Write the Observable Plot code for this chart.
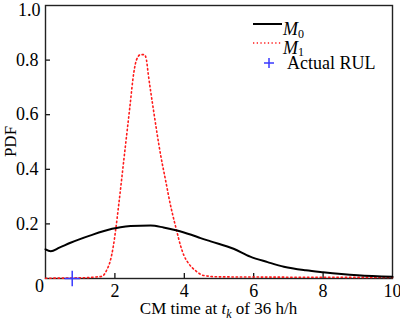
<!DOCTYPE html>
<html>
<head>
<meta charset="utf-8">
<script src="https://cdn.jsdelivr.net/npm/d3@7"></script>
<script src="https://cdn.jsdelivr.net/npm/@observablehq/plot@0.6"></script>
<style>
  html, body { margin: 0; padding: 0; background: #fff; }
  #chart { position: relative; width: 400px; height: 321px; }
  #chart svg, #chart svg text { font-family: "Liberation Serif", "DejaVu Serif", serif !important; }
</style>
</head>
<body>
<div id="chart"></div>
<script>
// M0 curve (solid black)
const m0X = [0, 0.15, 0.4, 0.72, 1.3, 1.92, 2.16, 2.45, 3.03, 3.4, 3.79, 4.2, 4.47, 4.76, 5.42, 5.9, 6.4, 6.87, 7.5, 8.0, 9.0, 10];
const m0Y = [0.107, 0.1, 0.113, 0.131, 0.158, 0.182, 0.188, 0.192, 0.194, 0.187, 0.176, 0.16, 0.148, 0.136, 0.109, 0.08, 0.06, 0.043, 0.03, 0.023, 0.012, 0.006];
// M1 curve (red dotted)
const m1X = [0, 1.2, 1.39, 1.63, 1.76, 1.87, 1.95, 2.02, 2.11, 2.28, 2.43, 2.54, 2.62, 2.74, 2.85, 2.91, 2.96, 3.1, 3.33, 3.46, 3.6, 3.72, 3.79, 3.89, 3.99, 4.13, 4.32, 4.56, 5, 10];
const m1Y = [0.001, 0.003, 0.005, 0.008, 0.03, 0.066, 0.115, 0.176, 0.27, 0.46, 0.627, 0.75, 0.8, 0.82, 0.82, 0.8, 0.75, 0.627, 0.444, 0.36, 0.27, 0.205, 0.17, 0.121, 0.084, 0.054, 0.029, 0.011, 0.006, 0.004];
// Actual RUL marker
const rulX = [0.77];
const rulY = [0];
// Ticks
const xTicks = [2, 4, 6, 8, 10];
const yTicks = [0.2, 0.4, 0.6, 0.8];
const yTopTick = [1.0];
const xInnerTicks = [2, 4, 6, 8];
const yInnerTicks = [0.2, 0.4, 0.6, 0.8];
const legendLabels = ["M", "M", "Actual RUL"];

const m0 = m0X.map((x, i) => ({x, y: m0Y[i]}));
const m1 = m1X.map((x, i) => ({x, y: m1Y[i]}));
const rul = rulX.map((x, i) => ({x, y: rulY[i]}));

const W = 400, H = 321;
const mL = 45, mR = 8, mT = 5, mB = 43;
const font = "Liberation Serif, DejaVu Serif, serif";
const fs = 18;

const plot = Plot.plot({
  width: W, height: H,
  marginLeft: mL, marginRight: mR, marginTop: mT, marginBottom: mB,
  style: {fontFamily: font, fontSize: fs + "px", color: "#000", background: "#fff"},
  x: {domain: [0, 10]},
  y: {domain: [0, 1]},
  marks: [
    Plot.axisX(xTicks, {tickSize: 0, tickPadding: 6, fontSize: fs, label: null}),
    Plot.axisY(yTicks, {tickSize: 0, tickPadding: 7, fontSize: fs, label: null, tickFormat: d => d.toFixed(1)}),
    Plot.text(yTopTick, {x: 0, y: d => d, text: d => d.toFixed(1), dx: -5, dy: 5, fontSize: fs, textAnchor: "end"}),
    Plot.text([0], {x: d => d, y: 0, text: d => "0", dx: -6, dy: 8, fontSize: fs, textAnchor: "middle"}),
    Plot.tickX(xInnerTicks, {x: d => d, insetTop: H - mT - mB - 5, stroke: "#000", strokeWidth: 1.2}),
    Plot.tickY(yInnerTicks, {y: d => d, insetRight: W - mL - mR - 5, stroke: "#000", strokeWidth: 1.2}),
    Plot.frame({stroke: "#222", strokeWidth: 1.4}),
    Plot.line(m1, {x: "x", y: "y", stroke: "#ff1a1a", strokeWidth: 1.6, strokeDasharray: "1.4,2.8", curve: "monotone-x"}),
    Plot.line(m0, {x: "x", y: "y", stroke: "#000", strokeWidth: 2, curve: "monotone-x"}),
    Plot.dot(rul, {x: "x", y: "y", symbol: "plus", r: 5, stroke: "#3a3aff", strokeWidth: 1.5})
  ]
});

document.getElementById("chart").appendChild(plot);

// Axis titles and legend appended in the SVG
const svg = d3.select(plot);
const xl = svg.append("text")
  .attr("x", mL + (W - mL - mR) / 2)
  .attr("y", 313.5)
  .attr("text-anchor", "middle")
  .attr("font-size", 17)
  .attr("fill", "#000");
xl.append("tspan").text("CM time at ");
xl.append("tspan").attr("font-style", "italic").text("t");
xl.append("tspan").attr("font-style", "italic").attr("font-size", 12).attr("dy", 4).text("k");
xl.append("tspan").attr("dy", -4).text(" of 36 h/h");

svg.append("text")
  .attr("transform", `translate(16,${mT + (H - mT - mB) / 2}) rotate(-90)`)
  .attr("text-anchor", "middle")
  .attr("font-size", 17)
  .attr("fill", "#000")
  .text("PDF");

const lg = svg.append("g").attr("font-size", 18).attr("fill", "#000").attr("text-anchor", "start");
// M0
lg.append("line").attr("x1", 253).attr("x2", 282).attr("y1", 24).attr("y2", 24)
  .attr("stroke", "#000").attr("stroke-width", 2);
const t0 = lg.append("text").attr("x", 283).attr("y", 35);
t0.append("tspan").attr("font-style", "italic").text(legendLabels[0]);
t0.append("tspan").attr("font-size", 12).attr("dy", 2.5).text("0");
// M1
lg.append("line").attr("x1", 253).attr("x2", 282).attr("y1", 43).attr("y2", 43)
  .attr("stroke", "#ff1a1a").attr("stroke-width", 1.4).attr("stroke-dasharray", "1.3,2.4");
const t1 = lg.append("text").attr("x", 283).attr("y", 53.5);
t1.append("tspan").attr("font-style", "italic").text(legendLabels[1]);
t1.append("tspan").attr("font-size", 12).attr("dy", 2.5).text("1");
// Actual RUL
lg.append("path").attr("d", "M264,63h10M269,58v10").attr("stroke", "#3a3aff").attr("stroke-width", 1.5);
lg.append("text").attr("x", 287).attr("y", 69).text(legendLabels[2]);
</script>
</body>
</html>
